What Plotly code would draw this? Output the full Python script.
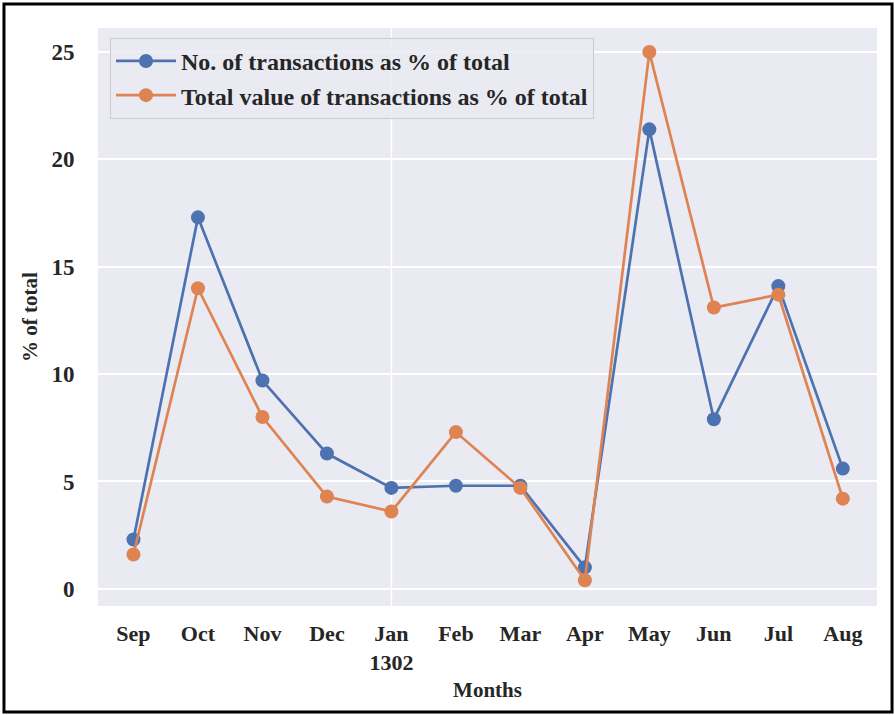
import plotly.graph_objects as go

months = ["Sep", "Oct", "Nov", "Dec", "Jan<br>1302", "Feb", "Mar", "Apr", "May", "Jun", "Jul", "Aug"]
num_pct = [2.3, 17.3, 9.7, 6.3, 4.7, 4.8, 4.8, 1.0, 21.4, 7.9, 14.1, 5.6]
val_pct = [1.6, 14.0, 8.0, 4.3, 3.6, 7.3, 4.7, 0.4, 25.0, 13.1, 13.7, 4.2]
series_names = ["No. of transactions as % of total", "Total value of transactions as % of total"]
yticks = [0, 5, 10, 15, 20, 25]

FONT = "Liberation Serif, Times New Roman, serif"
BLUE = "#4c72b0"
ORANGE = "#dd8452"
TXT = "#262626"
xpos = list(range(len(months)))

fig = go.Figure()
for name, vals, col in [(series_names[0], num_pct, BLUE), (series_names[1], val_pct, ORANGE)]:
    fig.add_trace(go.Scatter(
        x=xpos, y=vals, mode="lines+markers", name=name,
        line=dict(color=col, width=2.7),
        marker=dict(color=col, size=14),
    ))

fig.add_vline(x=months.index("Jan<br>1302"), line=dict(color="white", width=1.5), layer="below")

fig.update_layout(
    width=895, height=715,
    margin=dict(l=98, r=18, t=28, b=109),
    paper_bgcolor="white", plot_bgcolor="#eaeaf2",
    font=dict(family=FONT, color=TXT, size=20),
    showlegend=True,
    legend=dict(
        x=0.0154, y=0.983, xanchor="left", yanchor="top",
        bgcolor="rgba(234,234,242,0.85)", bordercolor="#cccccc", borderwidth=1,
        font=dict(family=FONT, size=24, weight="bold", color=TXT),
        itemwidth=60,
    ),
    xaxis=dict(
        tickmode="array", tickvals=xpos, ticktext=months,
        range=[-0.55, 11.53], showgrid=False, zeroline=False,
        tickfont=dict(family=FONT, size=22, weight="bold", color=TXT),
        ticks="outside", ticklen=8, tickcolor="rgba(0,0,0,0)",
        title=dict(text="Months", font=dict(family=FONT, size=21, weight="bold", color=TXT), standoff=8),
    ),
    yaxis=dict(
        tickmode="array", tickvals=yticks, range=[-0.8, 26.12],
        showgrid=True, gridcolor="white", gridwidth=1.5, zeroline=False,
        tickfont=dict(family=FONT, size=23, weight="bold", color=TXT),
        ticks="outside", ticklen=18, tickcolor="rgba(0,0,0,0)",
        title=dict(text="% of total", font=dict(family=FONT, size=21, weight="bold", color=TXT), standoff=8),
    ),
)

fig.add_shape(type="rect", xref="paper", yref="paper",
              x0=-0.1207, x1=1.0193, y0=-0.1834, y1=1.0415,
              line=dict(color="black", width=3), fillcolor="rgba(0,0,0,0)", layer="above")

fig.write_html("out.html", config={"displayModeBar": False},
               post_script="document.body.style.margin='0';")
